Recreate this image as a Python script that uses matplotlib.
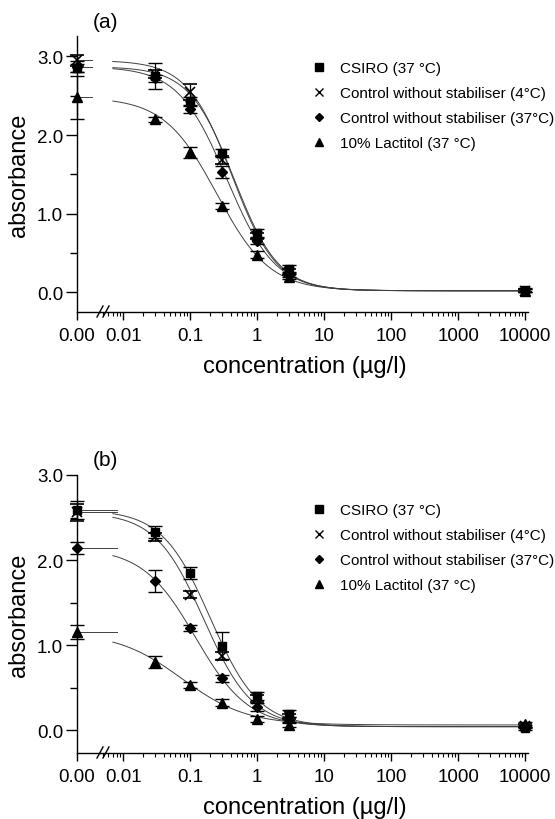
import matplotlib
matplotlib.use("Agg")
import matplotlib.pyplot as plt
from matplotlib.lines import Line2D
from matplotlib.ticker import FixedLocator, LogLocator, NullFormatter, MultipleLocator
import numpy as np

plt.rcParams["font.family"] = ["Liberation Sans", "DejaVu Sans"]

# ---- data ----
series_labels = ["CSIRO (37 \u00b0C)", "Control without stabiliser (4\u00b0C)",
                 "Control without stabiliser (37\u00b0C)", "10% Lactitol (37 \u00b0C)"]
markers = ["s", "x", "D", "^"]
marker_sizes = [6, 7, 5, 7]

conc = [0.03, 0.1, 0.3, 1, 3, 10000]

# panel (a)
a_zero = [2.85, 2.95, 2.87, 2.48]
a_zero_err = [0.05, 0.07, 0.07, 0.27]
a_vals = [
    [2.75, 2.43, 1.77, 0.76, 0.30, 0.03],
    [2.78, 2.55, 1.68, 0.72, 0.26, 0.02],
    [2.72, 2.33, 1.53, 0.65, 0.23, 0.02],
    [2.20, 1.78, 1.10, 0.48, 0.20, 0.02],
]
a_errs = [
    [0.17, 0.06, 0.05, 0.05, 0.05, 0.02],
    [0.05, 0.10, 0.05, 0.04, 0.04, 0.02],
    [0.05, 0.05, 0.08, 0.04, 0.03, 0.02],
    [0.03, 0.07, 0.04, 0.04, 0.03, 0.02],
]
# fitted 4-parameter logistic: top, bottom, ec50, hill
a_fit = [
    (2.87, 0.02, 0.45, 1.3),
    (2.95, 0.02, 0.42, 1.3),
    (2.87, 0.02, 0.35, 1.2),
    (2.48, 0.02, 0.25, 1.1),
]

# panel (b)
b_zero = [2.59, 2.56, 2.14, 1.15]
b_zero_err = [0.11, 0.10, 0.07, 0.08]
b_vals = [
    [2.33, 1.85, 0.99, 0.40, 0.19, 0.02],
    [2.27, 1.59, 0.87, 0.37, 0.16, 0.05],
    [1.75, 1.20, 0.61, 0.27, 0.12, 0.04],
    [0.80, 0.53, 0.32, 0.13, 0.06, 0.07],
]
b_errs = [
    [0.07, 0.07, 0.16, 0.05, 0.04, 0.02],
    [0.05, 0.04, 0.05, 0.04, 0.03, 0.02],
    [0.13, 0.04, 0.04, 0.05, 0.03, 0.02],
    [0.07, 0.04, 0.04, 0.03, 0.02, 0.03],
]
b_fit = [
    (2.59, 0.04, 0.20, 1.2),
    (2.56, 0.04, 0.16, 1.2),
    (2.14, 0.04, 0.12, 1.1),
    (1.15, 0.06, 0.075, 0.9),
]

xtick_vals = [0.01, 0.1, 1, 10, 100, 1000, 10000]
xtick_labels = ["0.01", "0.1", "1", "10", "100", "1000", "10000"]

W, H = 555, 820


def fx(px):
    return px / W


def fy(py):
    return (H - py) / H


def draw_panel(fig, top_px, bottom_px, ylim, zero, zero_err, vals, errs, fits,
               tag, legend_top, line_end):
    hgt = (bottom_px - top_px) / H
    ax0 = fig.add_axes([fx(77), fy(bottom_px), fx(23), hgt])
    ax1 = fig.add_axes([fx(100), fy(bottom_px), fx(428), hgt])

    for ax in (ax0, ax1):
        ax.set_ylim(*ylim)
        ax.spines["top"].set_visible(False)
        ax.spines["right"].set_visible(False)
        for s in ax.spines.values():
            s.set_linewidth(1.0)
        ax.patch.set_alpha(0)
    ax1.spines["left"].set_visible(False)
    ax1.tick_params(axis="y", left=False, labelleft=False)

    # zero-concentration segment
    ax0.set_xlim(0, 1)
    ax0.set_xticks([0])
    ax0.set_xticklabels(["0.00"])
    ax0.yaxis.set_major_locator(FixedLocator([0, 1, 2, 3]))
    ax0.set_yticklabels(["0.0", "1.0", "2.0", "3.0"])
    ax0.yaxis.set_minor_locator(MultipleLocator(0.5))
    ax0.tick_params(axis="y", which="major", length=8, width=1, labelsize=13.5, pad=2)
    ax0.tick_params(axis="y", which="minor", length=5, width=1)
    ax0.tick_params(axis="x", which="major", length=6, width=1, labelsize=13.5, pad=5)
    ax0.set_ylabel("absorbance", fontsize=17, labelpad=5)

    # log segment
    ax1.set_xscale("log")
    ax1.set_xlim(0.0045, 11000)
    ax1.xaxis.set_major_locator(FixedLocator(xtick_vals))
    ax1.set_xticklabels(xtick_labels)
    ax1.xaxis.set_minor_locator(LogLocator(base=10, subs=np.arange(2, 10), numticks=20))
    ax1.xaxis.set_minor_formatter(NullFormatter())
    ax1.tick_params(axis="x", which="major", length=6, width=1, labelsize=13.5, pad=5)
    ax1.tick_params(axis="x", which="minor", length=3, width=0.8)

    xs = np.logspace(np.log10(0.007), 4, 400)
    for i in range(4):
        top, bot, ec50, hill = fits[i]
        ax1.plot(xs, bot + (top - bot) / (1 + (xs / ec50) ** hill),
                 color="0.25", lw=0.7, zorder=2)
        ax0.plot([0, line_end], [top, top], color="0.25", lw=0.7,
                 clip_on=False, zorder=2)
        ms = marker_sizes[i]
        mew = 1.2 if markers[i] == "x" else 1
        ax1.errorbar(conc, vals[i], yerr=errs[i], fmt=markers[i], color="black",
                     ms=ms, mew=mew, elinewidth=0.9, capsize=5, capthick=0.9,
                     zorder=3, clip_on=False)
        ax0.errorbar([0], [zero[i]], yerr=[zero_err[i]], fmt=markers[i],
                     color="black", ms=ms, mew=mew, elinewidth=0.9, capsize=5,
                     capthick=0.9, zorder=3, clip_on=False)

    # axis break marks
    yb = bottom_px
    for x0 in (97, 103):
        fig.add_artist(Line2D([fx(x0), fx(x0 + 6)], [fy(yb + 5), fy(yb - 6)],
                              color="black", lw=1.0))

    fig.text(fx(105), fy(top_px - 15), tag, fontsize=15, ha="center", va="center")
    fig.text(fx(305), fy(bottom_px + 54), "concentration (\u00b5g/l)",
             fontsize=17, ha="center", va="center")

    handles = [Line2D([], [], marker=m, color="black", linestyle="none",
                      ms=ms * 0.9, mew=1)
               for m, ms in zip(markers, marker_sizes)]
    fig.legend(handles, series_labels, loc="upper left",
               bbox_to_anchor=(fx(313), fy(legend_top)), frameon=False,
               fontsize=11, handlelength=0.8, handletextpad=1.0,
               labelspacing=0.72, borderpad=0, borderaxespad=0)


fig = plt.figure(figsize=(W / 100, H / 100), dpi=100)

draw_panel(fig, 37, 313, (-0.25, 3.26), a_zero, a_zero_err, a_vals, a_errs,
           a_fit, "(a)", 62, 0.65)
draw_panel(fig, 476, 754, (-0.27, 3.0), b_zero, b_zero_err, b_vals, b_errs,
           b_fit, "(b)", 504, 1.75)

fig.savefig("out.png", dpi=100)
